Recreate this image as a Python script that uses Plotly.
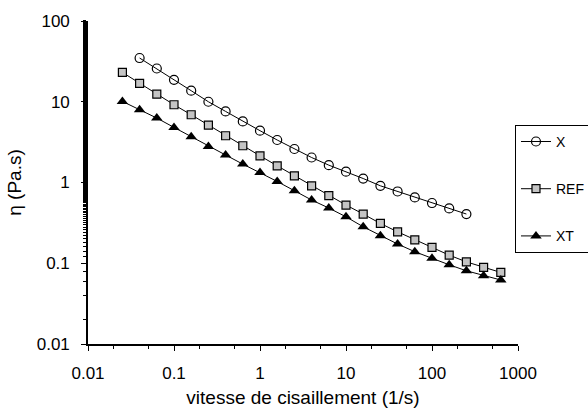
import plotly.graph_objects as go

# Shear rates (1/s): logarithmic sweep, 5 points per decade
shear_x = [10 ** (-1.4 + 0.2 * k) for k in range(20)]
shear_ref = [10 ** (-1.6 + 0.2 * k) for k in range(23)]
shear_xt = [10 ** (-1.6 + 0.2 * k) for k in range(23)]

# Viscosity (Pa.s)
eta_x = [34.8, 25.8, 18.7, 13.7, 10.0, 7.59, 5.70, 4.38, 3.36, 2.60,
         2.04, 1.64, 1.36, 1.12, 0.91, 0.774, 0.653, 0.557, 0.478, 0.407]
eta_ref = [23.1, 16.9, 12.4, 9.18, 6.90, 5.14, 3.79, 2.85, 2.14, 1.61,
           1.21, 0.91, 0.686, 0.526, 0.407, 0.311, 0.245, 0.195, 0.157,
           0.126, 0.104, 0.0888, 0.0769]
eta_xt = [10.1, 7.96, 6.28, 4.81, 3.69, 2.79, 2.19, 1.69, 1.33, 1.03,
          0.791, 0.607, 0.483, 0.376, 0.283, 0.219, 0.173, 0.139, 0.115,
          0.0957, 0.0807, 0.070, 0.062]

x_ticks = [0.01, 0.1, 1, 10, 100, 1000]
x_ticklabels = ["0.01", "0.1", "1", "10", "100", "1000"]
y_ticks = [0.01, 0.1, 1, 10, 100]
y_ticklabels = ["0.01", "0.1", "1", "10", "100"]

FONT = "Liberation Sans, Arial, Helvetica, sans-serif"

fig = go.Figure()
fig.add_trace(go.Scatter(
    x=shear_x, y=eta_x, name="X", mode="lines+markers", legendgroup="a",
    line=dict(color="black", width=1),
    marker=dict(symbol="circle-open", size=9, color="black", line=dict(width=1.2)),
))
fig.add_trace(go.Scatter(
    x=shear_ref, y=eta_ref, name="REF", mode="lines+markers", legendgroup="b",
    line=dict(color="black", width=1),
    marker=dict(symbol="square", size=8, color="#c4c4c4", line=dict(color="black", width=1.2)),
))
fig.add_trace(go.Scatter(
    x=shear_xt, y=eta_xt, name="XT", mode="lines+markers", legendgroup="c",
    line=dict(color="black", width=1),
    marker=dict(symbol="triangle-up", size=10, color="black"),
))

axis_common = dict(
    type="log", showgrid=False, zeroline=False, showline=True,
    linecolor="black", linewidth=1.6, ticks="outside", ticklen=5,
    tickwidth=1.2, tickcolor="black", tickfont=dict(size=17, color="black"),
    ticklabelstandoff=8,
    minor=dict(ticks="outside", ticklen=3, tickcolor="black", tickwidth=1, showgrid=False),
)

fig.update_xaxes(
    range=[-2, 3], tickvals=x_ticks, ticktext=x_ticklabels,
    title=dict(text="vitesse de cisaillement (1/s)", font=dict(size=19, color="black"), standoff=8),
    **axis_common,
)
fig.update_yaxes(
    range=[-2, 2], tickvals=y_ticks, ticktext=y_ticklabels,
    title=dict(text="η (Pa.s)", font=dict(size=19, color="black"), standoff=10),
    **axis_common,
)

fig.update_layout(
    width=588, height=410,
    margin=dict(l=88, r=70, t=21, b=66, autoexpand=False),
    paper_bgcolor="white", plot_bgcolor="white",
    font=dict(family=FONT, size=14, color="black"),
    showlegend=True,
    legend=dict(
        x=0.993, xanchor="left", y=0.282, yanchor="bottom",
        bordercolor="black", borderwidth=1, bgcolor="white",
        tracegroupgap=26, font=dict(size=14, color="black"),
        itemwidth=30,
    ),
)

fig.write_html("out.html")
